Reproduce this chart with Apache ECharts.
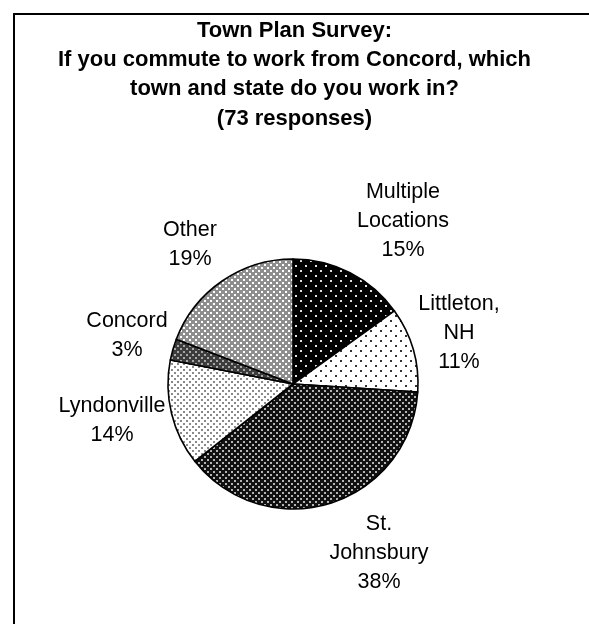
<!DOCTYPE html>
<html>
<head>
<meta charset="utf-8">
<script src="https://cdn.jsdelivr.net/npm/echarts@6/dist/echarts.min.js"></script>
<style>
  html, body { margin: 0; padding: 0; background: #fff; }
  #chart { width: 589px; height: 624px; }
</style>
</head>
<body>
<div id="chart"></div>
<script>
// Survey answers: where Concord residents commute to work (73 responses)
const towns = ['Multiple Locations', 'Littleton, NH', 'St. Johnsbury', 'Lyndonville', 'Concord', 'Other'];
const responses = [11, 8, 28, 10, 2, 14];
const titleLines = [
  'Town Plan Survey:',
  'If you commute to work from Concord, which',
  'town and state do you work in?',
  '(73 responses)'
];

// Label anchor points (centre of each text block) around the pie
const labelSpots = [
  [403, 221],
  [459, 333],
  [379, 553],
  [112, 421],
  [127, 336],
  [190, 245]
];

// Monochrome fill patterns, one per slice
function makePattern(size, bg, fg, dots, dotSize) {
  const c = document.createElement('canvas');
  c.width = size; c.height = size;
  const g = c.getContext('2d');
  g.fillStyle = bg; g.fillRect(0, 0, size, size);
  g.fillStyle = fg;
  dots.forEach(function (d) { g.fillRect(d[0], d[1], dotSize, dotSize); });
  return { image: c, repeat: 'repeat' };
}

const fills = [
  makePattern(10, '#000000', '#e0e0e0', [[0, 0], [5, 5]], 2),   // sparse light dots on black
  makePattern(10, '#ffffff', '#333333', [[0, 0], [5, 5]], 2),   // sparse dark dots on white
  makePattern(6, '#111111', '#b4b4b4', [[0, 0], [3, 3]], 2),    // dense light dots on black
  makePattern(6, '#ffffff', '#8a8a8a', [[0, 0], [3, 3]], 2),    // dense grey dots on white
  makePattern(6, '#3c3c3c', '#a8a8a8', [[0, 0], [3, 3]], 2),    // dark crosshatch
  makePattern(6, '#8e8e8e', '#ffffff', [[0, 0], [3, 3]], 2)     // light trellis
];

const chart = echarts.init(document.getElementById('chart'), null, { renderer: 'canvas' });

chart.setOption({
  animation: false,
  backgroundColor: '#ffffff',
  textStyle: { fontFamily: 'Liberation Sans, Arial, sans-serif' },
  title: {
    text: titleLines.join('\n'),
    left: 'center',
    top: 11,
    textStyle: {
      fontFamily: 'Liberation Sans, Arial, sans-serif',
      fontWeight: 'bold',
      fontSize: 22,
      lineHeight: 29.3,
      color: '#000'
    }
  },
  graphic: [{
    type: 'rect',
    shape: { x: 14, y: 14, width: 700, height: 700 },
    style: { fill: 'none', stroke: '#000', lineWidth: 2 },
    silent: true
  }],
  series: [{
    type: 'pie',
    center: [293, 384],
    radius: 125,
    startAngle: 90,
    clockwise: true,
    silent: true,
    avoidLabelOverlap: false,
    percentPrecision: 0,
    itemStyle: { borderColor: '#000', borderWidth: 1.6 },
    label: {
      show: true,
      position: 'outside',
      formatter: function (p) { return p.name.replace(/ /g, '\n') + '\n' + p.percent + '%'; },
      fontFamily: 'Liberation Sans, Arial, sans-serif',
      fontSize: 21.5,
      lineHeight: 29,
      color: '#000'
    },
    labelLine: { show: false },
    labelLayout: function (p) {
      const s = labelSpots[p.dataIndex];
      return { x: s[0], y: s[1], align: 'center', verticalAlign: 'middle' };
    },
    data: towns.map(function (t, i) {
      return { name: t, value: responses[i], itemStyle: { color: fills[i] } };
    })
  }]
});
</script>
</body>
</html>
